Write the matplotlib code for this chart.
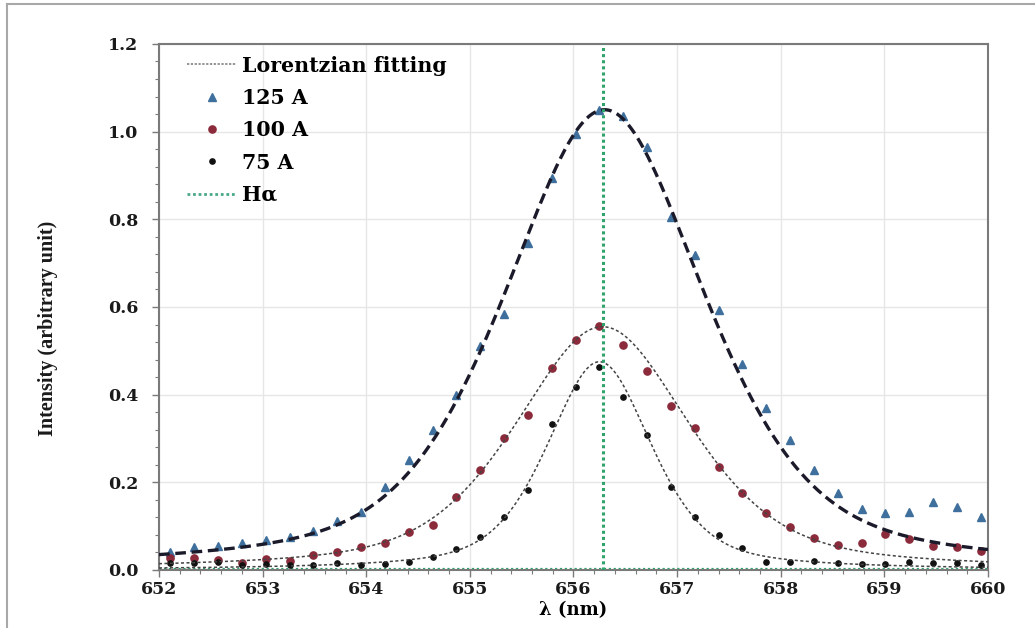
import numpy as np
import matplotlib
matplotlib.use("Agg")
import matplotlib.pyplot as plt
from matplotlib.ticker import MultipleLocator

plt.rcParams['font.family'] = ['DejaVu Serif']

# Длины волн точек измерения (нм)
wavelength = [652.11, 652.34, 652.57, 652.80, 653.03, 653.26, 653.49, 653.72, 653.95,
              654.18, 654.41, 654.64, 654.87, 655.10, 655.33, 655.56, 655.79, 656.02,
              656.25, 656.48, 656.71, 656.94, 657.17, 657.40, 657.63, 657.86, 658.09,
              658.32, 658.55, 658.78, 659.01, 659.24, 659.47, 659.70, 659.93]

# Интенсивности для разных токов
int_125 = [0.042, 0.053, 0.055, 0.061, 0.068, 0.076, 0.088, 0.112, 0.133, 0.19, 0.25, 0.32,
           0.40, 0.51, 0.585, 0.745, 0.895, 0.995, 1.05, 1.035, 0.965, 0.806, 0.718, 0.593,
           0.47, 0.37, 0.297, 0.228, 0.175, 0.14, 0.13, 0.133, 0.155, 0.144, 0.12]
int_100 = [0.028, 0.027, 0.022, 0.017, 0.024, 0.021, 0.034, 0.041, 0.053, 0.062, 0.087, 0.103,
           0.167, 0.228, 0.30, 0.354, 0.46, 0.525, 0.557, 0.514, 0.453, 0.374, 0.324, 0.236,
           0.176, 0.13, 0.098, 0.073, 0.057, 0.061, 0.082, 0.071, 0.055, 0.052, 0.044]
int_75 = [0.015, 0.016, 0.018, 0.012, 0.013, 0.012, 0.011, 0.015, 0.012, 0.014, 0.018, 0.03,
          0.047, 0.075, 0.121, 0.182, 0.333, 0.418, 0.464, 0.394, 0.308, 0.19, 0.121, 0.08,
          0.05, 0.018, 0.019, 0.02, 0.016, 0.014, 0.013, 0.018, 0.015, 0.017, 0.012]

# Параметры подгонки (125 A, 100 A, 75 A), оценены по картинке
fit_center = [656.30, 656.28, 656.25]
fit_peak = [1.05, 0.555, 0.475]
fit_hwhm = [1.15, 1.0, 0.6]
fit_eta = [0.5, 0.5, 0.5]

h_alpha = 656.28


def profile(x, c, a, w, eta):
    d = (x - c) / w
    lor = 1.0 / (1.0 + d ** 2)
    gau = np.exp(-np.log(2) * d ** 2)
    return a * (eta * lor + (1 - eta) * gau)


fig = plt.figure(figsize=(10.35, 6.28), dpi=100)
ax = fig.add_axes([0.1536, 0.0924, 0.8010, 0.8376])

# рамка вокруг рисунка
fig.add_artist(plt.Line2D([0.007, 0.007], [0.0, 0.994], color='#a8a8a8', lw=1.5))
fig.add_artist(plt.Line2D([0.007, 1.0], [0.994, 0.994], color='#a8a8a8', lw=1.5))

xs = np.linspace(652, 660, 600)
fit_styles = [
    dict(color='#1a1a2a', lw=2.4, linestyle=(0, (3.2, 1.7))),
    dict(color='#444444', lw=1.1, linestyle=(0, (2, 1.6))),
    dict(color='#444444', lw=1.1, linestyle=(0, (2, 1.6))),
]
for i in range(3):
    ax.plot(xs, profile(xs, fit_center[i], fit_peak[i], fit_hwhm[i], fit_eta[i]),
            zorder=3, **fit_styles[i])

ax.plot(wavelength, int_125, '^', color='#3f6f9c', ms=6, zorder=2)
ax.plot(wavelength, int_100, 'o', color='#8a2a3a', ms=5.2, zorder=2)
ax.plot(wavelength, int_75, 'o', color='#111111', ms=3.8, zorder=2)

# линия H-альфа
ax.plot([h_alpha, h_alpha], [0, 1.2], color='#2fa36b', lw=2.2, linestyle=(0, (1, 1)), zorder=4)
ax.plot([652, 660], [0.003, 0.003], color='#2fa36b', lw=1.6, linestyle=(0, (1, 1.2)), zorder=1)

# легенда
h_fit = plt.Line2D([], [], color='#777777', lw=1.1, linestyle=(0, (1.5, 1)))
h_125 = plt.Line2D([], [], marker='^', color='#3f6f9c', ms=6, lw=0)
h_100 = plt.Line2D([], [], marker='o', color='#8a2a3a', ms=5.2, lw=0)
h_75 = plt.Line2D([], [], marker='o', color='#111111', ms=3.8, lw=0)
h_ha = plt.Line2D([], [], color='#4aa88a', lw=2, linestyle=(0, (1, 1)))
ax.legend([h_fit, h_125, h_100, h_75, h_ha],
          ['Lorentzian fitting', '125 A', '100 A', '75 A', 'H\u03b1'],
          loc='upper left', bbox_to_anchor=(0.034, 0.978), frameon=False,
          prop={'family': 'DejaVu Serif', 'weight': 'bold', 'size': 14.8},
          labelspacing=0.6, handlelength=2.4, handletextpad=0.25,
          borderaxespad=0, borderpad=0)

ax.set_xlim(652, 660)
ax.set_ylim(0, 1.2)
ax.xaxis.set_major_locator(MultipleLocator(1))
ax.xaxis.set_minor_locator(MultipleLocator(0.2))
ax.yaxis.set_major_locator(MultipleLocator(0.2))
ax.yaxis.set_minor_locator(MultipleLocator(0.04))
ax.yaxis.set_major_formatter(plt.FormatStrFormatter('%.1f'))

ax.grid(True, which='major', color='#e6e6e6', lw=1.0)
ax.set_axisbelow(True)
for s in ax.spines.values():
    s.set_color('#7a7a7a')
    s.set_linewidth(1.5)

ax.tick_params(which='major', direction='out', length=5, width=1, colors='#7a7a7a',
               labelcolor='#1a1a1a', labelsize=12.5)
ax.tick_params(which='minor', direction='out', length=3, width=0.8, colors='#7a7a7a')
ax.tick_params(axis='y', pad=10)
ax.tick_params(axis='x', pad=3)
for lab in ax.get_xticklabels() + ax.get_yticklabels():
    lab.set_fontweight('bold')

ax.set_xlabel('\u03bb (nm)', fontsize=13, fontweight='bold', labelpad=2)
ax.set_ylabel('Intensity (arbitrary unit)', fontsize=14.5, fontweight='bold',
              family=['Liberation Serif', 'DejaVu Serif'], color='#1a1a1a')
ax.yaxis.set_label_coords(-0.122, 0.46)

plt.savefig('out.png', dpi=100)
